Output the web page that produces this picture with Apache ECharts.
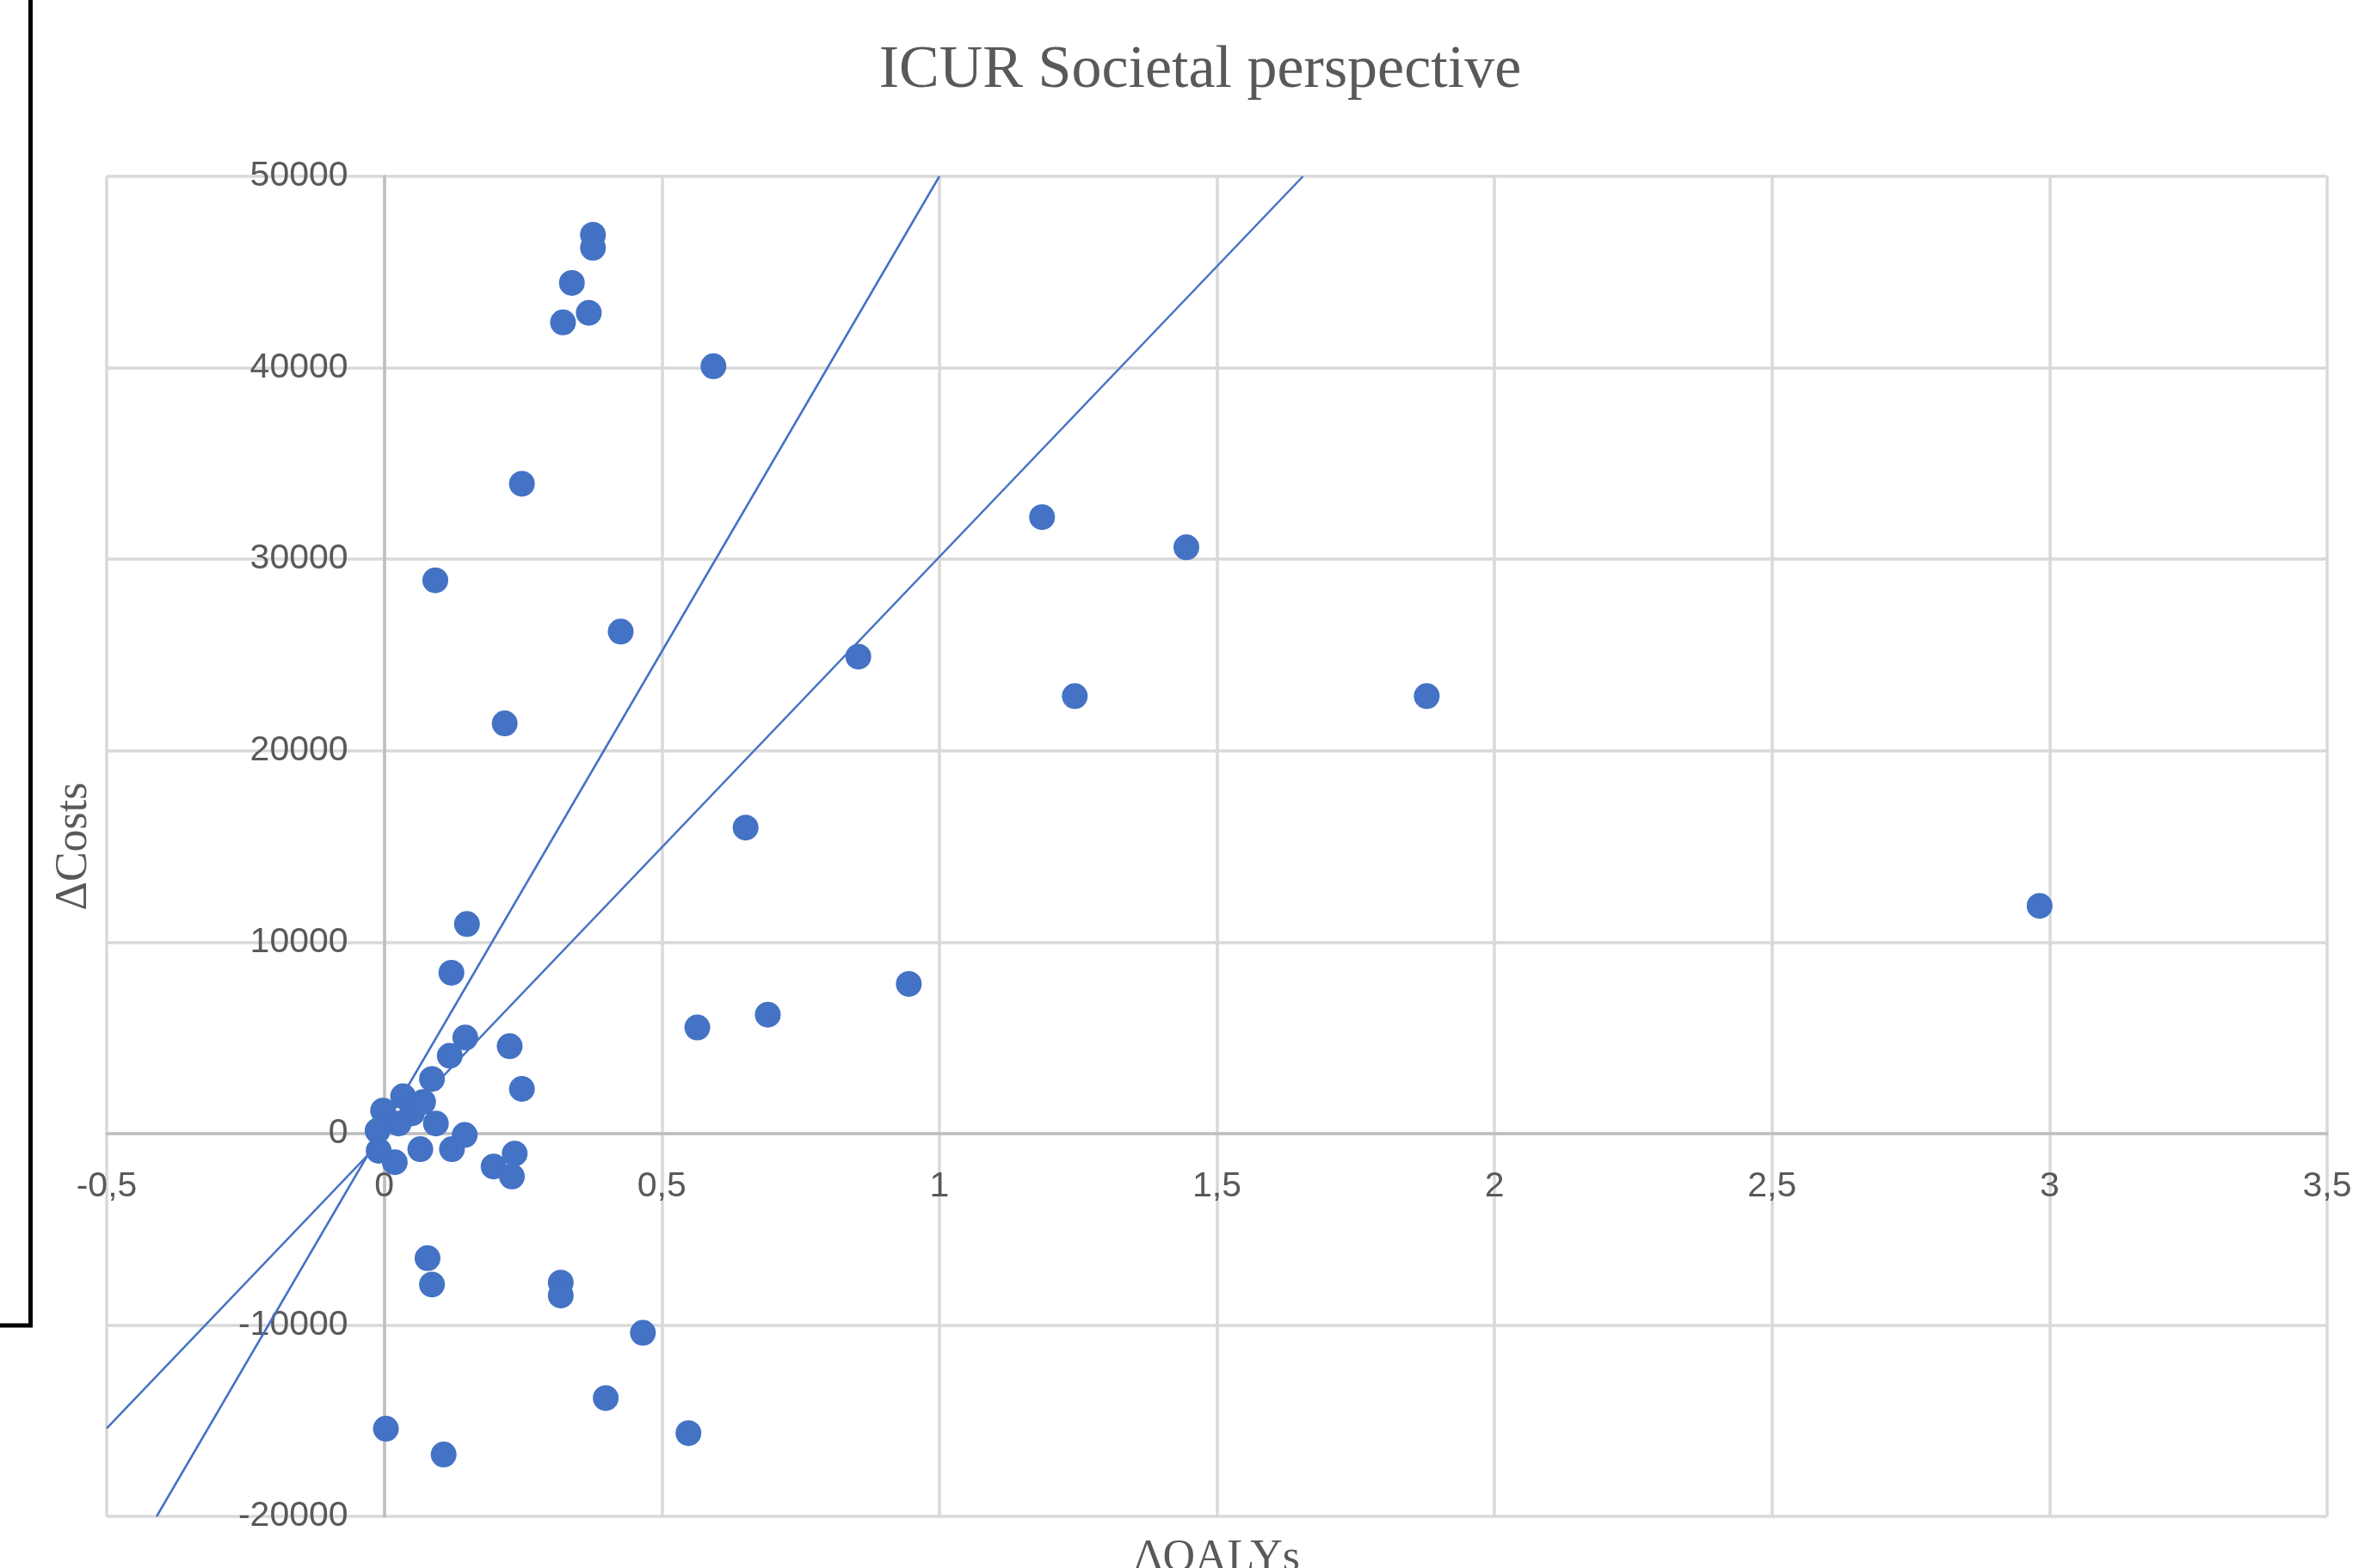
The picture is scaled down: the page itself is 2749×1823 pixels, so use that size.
<!DOCTYPE html>
<html>
<head>
<meta charset="utf-8">
<script src="https://cdn.jsdelivr.net/npm/echarts@6/dist/echarts.min.js"></script>
<style>
html,body{margin:0;padding:0;background:#ffffff;}
#chart{width:2749px;height:1823px;}
</style>
</head>
<body>
<div id="chart"></div>
<script>
// ---- Data ----
const titleText = 'ICUR Societal perspective';
const xAxisName = 'ΔQALYs';
const yAxisName = 'ΔCosts';

const xTickValues = [-0.5, 0, 0.5, 1, 1.5, 2, 2.5, 3, 3.5];
const xTickLabels = ['-0,5', '0', '0,5', '1', '1,5', '2', '2,5', '3', '3,5'];
const yTickValues = [-20000, -10000, 0, 10000, 20000, 30000, 40000, 50000];
const yTickLabels = ['-20000', '-10000', '0', '10000', '20000', '30000', '40000', '50000'];

// incremental QALYs of each pair
const deltaQalys = [
  0.376, 0.376, 0.338, 0.3685, 0.322, 0.593, 0.248, 0.092, 0.426, 0.217,
  1.185, 1.445, 0.854, 1.244, 1.878, 0.651, 2.982, 0.149, 0.121, 0.945,
  0.564, 0.691, 0.146, 0.118, 0.226, 0.086, 0.248,
  0.034, -0.002, -0.012, -0.010, 0.019, 0.050, 0.093, 0.065, 0.122, 0.145, 0.070, 0.026,
  0.197, 0.235, 0.230, 0.078, 0.086, 0.318, 0.318, 0.466, 0.399, 0.003, 0.107, 0.548
];
// incremental costs of each pair
const deltaCosts = [
  46950, 46270, 44430, 42870, 42370, 40080, 33940, 28900, 26220, 21420,
  32200, 30620, 24910, 22850, 22850, 15980, 11890, 10940, 8400, 7815,
  5540, 6210, 5010, 4060, 4560, 2850, 2330,
  1945, 1200, 150, -900, -1500, 1050, 525, -820, -820, -75, 1650, 525,
  -1720, -1050, -2245, -6513, -7890, -7785, -8459, -10410, -13820, -15420, -16770, -15650
];

// willingness-to-pay threshold lines (end points)
const wtpHighX = [-0.41, 1.0];
const wtpHighY = [-20000, 50000];
const wtpLowX = [-0.5, 1.655];
const wtpLowY = [-15400, 50000];

// axis ranges
const xMin = -0.5, xMax = 3.5, xStep = 0.5;
const yMin = -20000, yMax = 50000, yStep = 10000;

// ---- Build chart ----
const W = 2749, H = 1823;
const gridBox = {left: 124, right: 44, top: 205, bottom: 60};
const gridW = W - gridBox.left - gridBox.right;
const gridH = H - gridBox.top - gridBox.bottom;
// shift each axis (line, labels, name) so it crosses the other axis at zero
const xAxisShift = -((0 - yMin) / (yMax - yMin)) * gridH;
const yAxisShift = -((0 - xMin) / (xMax - xMin)) * gridW;

const chart = echarts.init(document.getElementById('chart'), null, {renderer: 'canvas'});

const zip = (xs, ys) => xs.map((x, i) => [x, ys[i]]);
const labelFor = (vals, labels) => (v) => {
  for (let i = 0; i < vals.length; i++) {
    if (Math.abs(vals[i] - v) < 1e-9) return labels[i];
  }
  return '';
};

const blue = '#4472C4';
const textGray = '#595959';

const option = {
  animation: false,
  backgroundColor: '#ffffff',
  title: {
    text: titleText,
    left: 1390,
    textAlign: 'center',
    top: 43,
    textStyle: {
      fontFamily: 'Liberation Serif',
      fontSize: 70,
      fontWeight: 'normal',
      color: textGray
    }
  },
  grid: {
    left: gridBox.left,
    right: gridBox.right,
    top: gridBox.top,
    bottom: gridBox.bottom,
    outerBoundsMode: 'none',
    containLabel: false
  },
  xAxis: {
    type: 'value',
    position: 'bottom',
    offset: xAxisShift,
    min: xMin,
    max: xMax,
    interval: xStep,
    name: xAxisName,
    nameLocation: 'middle',
    nameGap: 468,
    nameTextStyle: {fontFamily: 'Liberation Serif', fontSize: 52, color: textGray},
    axisLine: {show: true, onZero: false, lineStyle: {color: '#bfbfbf', width: 3.5}},
    axisTick: {show: false},
    axisLabel: {
      color: textGray,
      fontFamily: 'Liberation Sans',
      fontSize: 41,
      margin: 41,
      formatter: labelFor(xTickValues, xTickLabels)
    },
    splitLine: {show: true, lineStyle: {color: '#d9d9d9', width: 3.5}}
  },
  yAxis: {
    type: 'value',
    position: 'left',
    offset: yAxisShift,
    min: yMin,
    max: yMax,
    interval: yStep,
    name: yAxisName,
    nameLocation: 'middle',
    nameGap: 334,
    nameTextStyle: {fontFamily: 'Liberation Serif', fontSize: 52, color: textGray},
    axisLine: {show: true, onZero: false, lineStyle: {color: '#bfbfbf', width: 3.5}},
    axisTick: {show: false},
    axisLabel: {
      color: textGray,
      fontFamily: 'Liberation Sans',
      fontSize: 41,
      margin: 42,
      formatter: labelFor(yTickValues, yTickLabels)
    },
    splitLine: {show: true, lineStyle: {color: '#d9d9d9', width: 3.5}}
  },
  graphic: [
    {
      type: 'polyline',
      silent: true,
      shape: {points: [[35.5, 0], [35.5, 1541], [0, 1541]]},
      style: {stroke: '#000000', lineWidth: 5, fill: null}
    }
  ],
  series: [
    {
      name: 'WTP high',
      type: 'line',
      data: zip(wtpHighX, wtpHighY),
      showSymbol: false,
      symbol: 'none',
      clip: true,
      silent: true,
      z: 2,
      lineStyle: {color: blue, width: 2.5}
    },
    {
      name: 'WTP low',
      type: 'line',
      data: zip(wtpLowX, wtpLowY),
      showSymbol: false,
      symbol: 'none',
      clip: true,
      silent: true,
      z: 2,
      lineStyle: {color: blue, width: 2.5}
    },
    {
      name: 'ICUR',
      type: 'scatter',
      data: zip(deltaQalys, deltaCosts),
      symbol: 'circle',
      symbolSize: 30,
      z: 3,
      itemStyle: {color: blue, opacity: 1}
    }
  ]
};

chart.setOption(option);
</script>
</body>
</html>
